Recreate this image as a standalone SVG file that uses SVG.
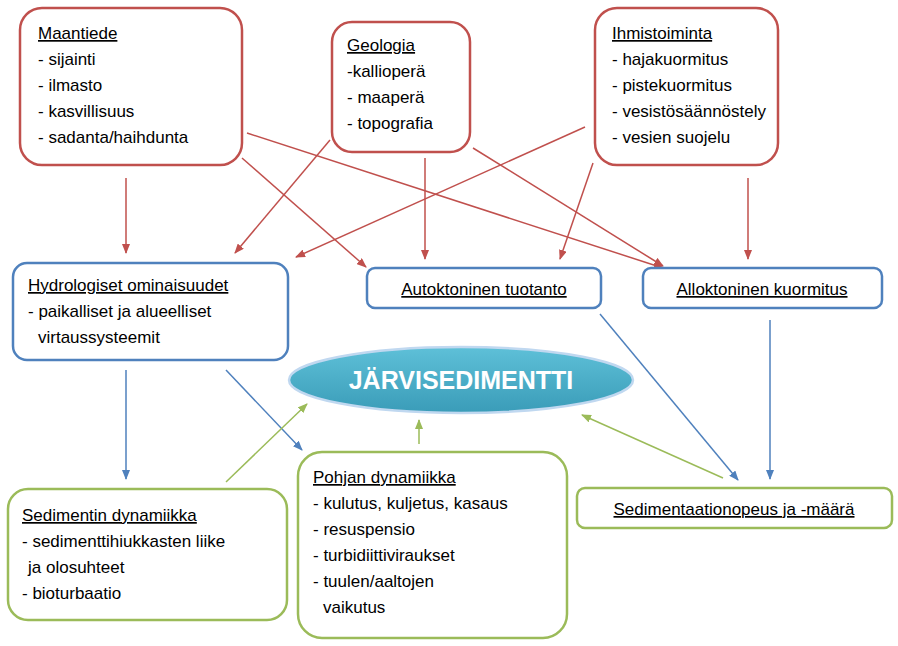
<svg xmlns="http://www.w3.org/2000/svg" width="898" height="646" viewBox="0 0 898 646">
<style>
text{font-family:"Liberation Sans",Arial,sans-serif;font-size:17px;fill:#000}
.r{fill:#fff;stroke:#c0504d;stroke-width:2.5}
.b{fill:#fff;stroke:#4f81bd;stroke-width:2.5}
.g{fill:#fff;stroke:#9bbb59;stroke-width:2.5}
.u{text-decoration:underline}
.m{text-anchor:middle}
.lr{stroke:#c0504d;stroke-width:1.5;fill:none;marker-end:url(#ar)}
.lb{stroke:#4f81bd;stroke-width:1.5;fill:none;marker-end:url(#ab)}
.lg{stroke:#9bbb59;stroke-width:1.5;fill:none;marker-end:url(#ag)}
</style>
<defs>
<marker id="ar" markerWidth="10" markerHeight="8" refX="9" refY="4" orient="auto" markerUnits="userSpaceOnUse"><path d="M0,0L10,4L0,8z" fill="#c0504d"/></marker>
<marker id="ab" markerWidth="10" markerHeight="8" refX="9" refY="4" orient="auto" markerUnits="userSpaceOnUse"><path d="M0,0L10,4L0,8z" fill="#4f81bd"/></marker>
<marker id="ag" markerWidth="10" markerHeight="8" refX="9" refY="4" orient="auto" markerUnits="userSpaceOnUse"><path d="M0,0L10,4L0,8z" fill="#9bbb59"/></marker>
<linearGradient id="eg" x1="0" y1="0" x2="0" y2="1"><stop offset="0" stop-color="#5ec0d8"/><stop offset="1" stop-color="#3a9cb8"/></linearGradient>
</defs>
<g id="connectors">
<line class="lr" x1="126" y1="178" x2="126" y2="253"/>
<line class="lr" x1="242" y1="158" x2="366" y2="267"/>
<line class="lr" x1="247" y1="133" x2="663" y2="268"/>
<line class="lr" x1="330" y1="140" x2="235" y2="253"/>
<line class="lr" x1="425" y1="158" x2="425" y2="259"/>
<line class="lr" x1="473" y1="148" x2="663" y2="266"/>
<line class="lr" x1="585" y1="127" x2="296" y2="257"/>
<line class="lr" x1="593" y1="163" x2="560" y2="259"/>
<line class="lr" x1="748" y1="178" x2="748" y2="259"/>
<line class="lb" x1="126" y1="370" x2="126" y2="479"/>
<line class="lb" x1="226" y1="370" x2="302" y2="450"/>
<line class="lb" x1="600" y1="314" x2="738" y2="480"/>
<line class="lb" x1="770" y1="320" x2="770" y2="479"/>
<line class="lg" x1="226" y1="482" x2="307" y2="404"/>
<line class="lg" x1="419" y1="444" x2="419" y2="420"/>
<line class="lg" x1="723" y1="478" x2="582" y2="415"/>
</g>
<g id="maantiede"><rect class="r" x="20" y="8" width="222" height="157" rx="22"/>
<text x="38" y="39" class="u">Maantiede</text><text x="38" y="65">- sijainti</text><text x="38" y="91">- ilmasto</text><text x="38" y="117">- kasvillisuus</text><text x="38" y="143">- sadanta/haihdunta</text></g>
<g id="geologia"><rect class="r" x="332" y="22" width="138" height="130" rx="20"/>
<text x="347" y="51" class="u">Geologia</text><text x="347" y="77">-kallioperä</text><text x="347" y="103">- maaperä</text><text x="347" y="129">- topografia</text></g>
<g id="ihmistoiminta"><rect class="r" x="595" y="8" width="183" height="157" rx="22"/>
<text x="612" y="39" class="u">Ihmistoiminta</text><text x="612" y="65">- hajakuormitus</text><text x="612" y="91">- pistekuormitus</text><text x="612" y="117">- vesistösäännöstely</text><text x="612" y="143">- vesien suojelu</text></g>
<g id="hydrologiset"><rect class="b" x="13" y="263" width="275" height="97" rx="14"/>
<text x="28" y="291" class="u">Hydrologiset ominaisuudet</text><text x="28" y="317">- paikalliset ja alueelliset</text><text x="38" y="343">virtaussysteemit</text></g>
<g id="autoktoninen"><rect class="b" x="367" y="268" width="234" height="40" rx="8"/>
<text x="484" y="295" class="m u">Autoktoninen tuotanto</text></g>
<g id="allokoninen"><rect class="b" x="643" y="268" width="239" height="40" rx="8"/>
<text x="762" y="295" class="m u">Alloktoninen kuormitus</text></g>
<g id="jarvisedimentti"><ellipse cx="461" cy="380" rx="172" ry="33" fill="url(#eg)" stroke="#c0d8f0" stroke-width="2.5"/>
<text x="461" y="389" class="m" style="font-size:25px;font-weight:bold;fill:#fff">JÄRVISEDIMENTTI</text></g>
<g id="sedimentin"><rect class="g" x="8" y="489" width="279" height="131" rx="20"/>
<text x="22" y="521" class="u">Sedimentin dynamiikka</text><text x="22" y="547">- sedimenttihiukkasten liike</text><text x="28" y="573">ja olosuhteet</text><text x="22" y="599">- bioturbaatio</text></g>
<g id="pohjan"><rect class="g" x="298" y="452" width="269" height="186" rx="24"/>
<text x="313" y="483" class="u">Pohjan dynamiikka</text><text x="313" y="509">- kulutus, kuljetus, kasaus</text><text x="313" y="535">- resuspensio</text><text x="313" y="561">- turbidiittivirauk­set</text><text x="313" y="587">- tuulen/aaltojen</text><text x="323" y="613">vaikutus</text></g>
<g id="sedimentaatio"><rect class="g" x="577" y="488" width="315" height="40" rx="8"/>
<text x="734" y="515" class="m u">Sedimentaationopeus ja -määrä</text></g>
</svg>
